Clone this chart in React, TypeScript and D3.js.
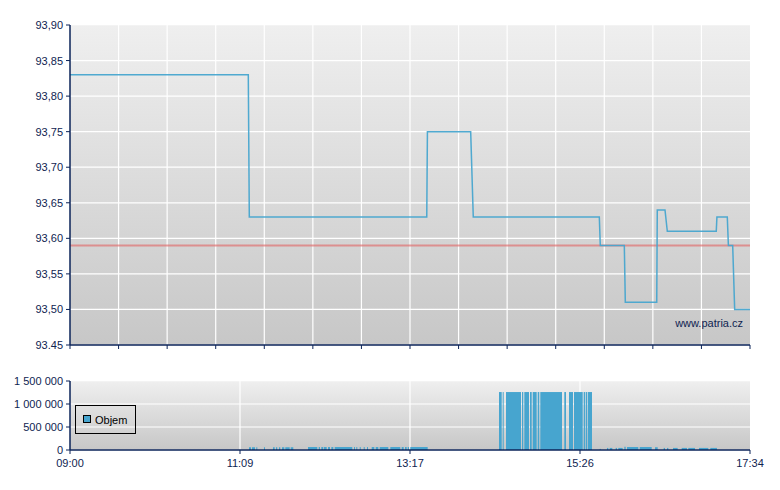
import React from "react";
import * as d3 from "d3";

const priceTimes = ["09:00:00","11:14:46","11:15:32","13:29:40","13:30:10","14:02:52","14:04:50","15:40:06","15:40:50","15:59:00","15:59:45","16:23:30","16:23:55","16:29:45","16:31:30","17:08:30","17:09:00","17:16:50","17:17:40","17:20:55","17:22:25","17:34:00"];
const priceValues = [93.83,93.83,93.63,93.63,93.75,93.75,93.63,93.63,93.59,93.59,93.51,93.51,93.64,93.64,93.61,93.61,93.63,93.63,93.59,93.59,93.50,93.50];
const refPrice = 93.59;

const volStart = ["11:15:18","11:17:34","11:20:49","11:26:38","11:33:26","11:35:42","11:37:58","11:40:15","11:42:44","11:46:49","11:59:54","12:07:59","12:09:57","12:12:00","12:15:01","12:17:32","12:20:05","12:34:40","12:36:24","12:39:00","12:42:01","12:44:30","12:48:03","12:51:05","12:54:06","13:02:07","13:10:43","13:13:13","13:15:15","13:17:14",
  "14:24:17","14:27:04","14:29:34","14:41:39","14:43:24","14:47:42","14:49:44","14:53:31","14:55:29","15:13:38","15:17:11","15:20:58","15:28:17","15:29:48","15:31:19",
  "15:40:24","15:45:54","15:47:58","15:52:29","15:54:27","15:59:00","16:01:01","16:10:38","16:22:12","16:28:46","16:31:16","16:35:48","16:42:22","16:47:22","16:55:27","17:04:00"];
const volEnd = ["11:16:49","11:19:50","11:21:35","11:27:23","11:34:43","11:36:40","11:38:57","11:41:59","11:46:04","11:48:47","12:06:56","12:08:58","12:11:28","12:14:02","12:16:32","12:19:02","12:33:23","12:35:25","12:37:10","12:39:45","12:42:28","12:45:15","12:50:01","12:53:03","13:00:36","13:09:40","13:12:14","13:14:30","13:16:14","13:30:22",
  "14:26:19","14:27:30","14:40:54","14:42:38","14:46:57","14:49:00","14:52:45","14:54:44","15:11:54","15:14:55","15:20:13","15:27:32","15:29:16","15:30:47","15:34:34",
  "15:41:08","15:46:53","15:49:56","15:53:28","15:57:45","16:00:02","16:09:34","16:19:42","16:24:14","16:29:45","16:32:16","16:39:20","16:46:23","16:52:26","17:02:29","17:09:02"];
const volValues = [60000,60000,60000,60000,60000,60000,60000,60000,60000,60000,65000,65000,65000,65000,65000,65000,65000,65000,65000,65000,65000,65000,65000,65000,65000,65000,65000,65000,65000,65000,
  1260000,1260000,1260000,1260000,1260000,1260000,1260000,1260000,1260000,1260000,1260000,1260000,1260000,1260000,1260000,
  25000,45000,45000,45000,45000,70000,65000,65000,60000,45000,45000,45000,45000,45000,45000,45000];

const priceTickLabels = ["93.45","93,50","93,55","93,60","93,65","93,70","93,75","93,80","93,85","93,90"];
const priceTickValues = [93.45,93.5,93.55,93.6,93.65,93.7,93.75,93.8,93.85,93.9];
const volTickValues = [0,500000,1000000,1500000];
const timeLabels = ["09:00","11:09","13:17","15:26","17:34"];
const dayStart = "09:00:00";
const dayEnd = "17:34:00";

const parse = d3.timeParse("%H:%M:%S");
const volFmt = d3.formatLocale({ decimal: ",", thousands: " ", grouping: [3], currency: ["", ""] }).format(",.0f");

const AXIS = "#0b2358";
const TEXT = "#0f2451";
const BLUE = "#47a5cf";
const FONT = "'Liberation Sans', Arial, sans-serif";

export default function App() {
  const x0 = 70, x1 = 750;
  const t0 = parse(dayStart)!, t1 = parse(dayEnd)!;
  const x = d3.scaleTime().domain([t0, t1]).range([x0, x1]);
  const yP = d3.scaleLinear().domain([93.45, 93.9]).range([345, 25]);
  const yV = d3.scaleLinear().domain([0, 1500000]).range([450, 381]);

  const pts = priceTimes.map((t, i) => [x(parse(t)!), yP(priceValues[i])] as [number, number]);
  const line = d3.line().curve(d3.curveLinear)(pts) || "";

  const span = t1.getTime() - t0.getTime();
  const topGrid = d3.range(15).map(i => x(new Date(t0.getTime() + (span * i) / 14)));
  const botTicks = timeLabels.map((l, i) => ({ l, px: x(new Date(t0.getTime() + (span * i) / 4)) }));

  return (
    <svg width={780} height={490} style={{ position: "absolute", left: 0, top: 0, background: "#fff" }} fontFamily={FONT}>
      <defs>
        <linearGradient id="gTop" x1="0" y1="0" x2="0" y2="1">
          <stop offset="0" stopColor="#efefef" />
          <stop offset="1" stopColor="#c7c7c7" />
        </linearGradient>
        <linearGradient id="gBot" x1="0" y1="0" x2="0" y2="1">
          <stop offset="0" stopColor="#efefef" />
          <stop offset="1" stopColor="#c7c7c7" />
        </linearGradient>
      </defs>

      {/* top chart */}
      <rect x={x0} y={yP(93.9)} width={x1 - x0} height={yP(93.45) - yP(93.9)} fill="url(#gTop)" />
      {priceTickValues.map((v, i) => (
        <line key={"hg" + i} x1={x0} x2={x1} y1={yP(v)} y2={yP(v)} stroke="#fff" strokeWidth={1.2} opacity={i === priceTickValues.length - 1 ? 0.6 : 1} />
      ))}
      {topGrid.map((px, i) => i > 0 && i < 14 ? (
        <line key={"vg" + i} x1={px} x2={px} y1={yP(93.9)} y2={yP(93.45)} stroke="#fff" strokeWidth={1.2} />
      ) : null)}
      <line x1={x0} x2={x1} y1={yP(refPrice)} y2={yP(refPrice)} stroke="#e06a6a" strokeOpacity={0.65} strokeWidth={2} />
      <path d={line} fill="none" stroke={BLUE} strokeWidth={1.5} strokeOpacity={0.95} />
      <text x={743} y={327} textAnchor="end" fontSize={11} fill={TEXT}>www.patria.cz</text>
      <line x1={x0} x2={x0} y1={yP(93.9)} y2={yP(93.45)} stroke={AXIS} strokeWidth={1.5} />
      <line x1={x0} x2={x1} y1={yP(93.45)} y2={yP(93.45)} stroke={AXIS} strokeWidth={1.5} />
      {priceTickValues.map((v, i) => (
        <g key={"pt" + i}>
          <line x1={x0 - 4} x2={x0} y1={yP(v)} y2={yP(v)} stroke={AXIS} strokeWidth={1} />
          <text x={63} y={yP(v) + 4} textAnchor="end" fontSize={11} fill={TEXT}>{priceTickLabels[i]}</text>
        </g>
      ))}
      {topGrid.map((px, i) => (
        <line key={"xt" + i} x1={px} x2={px} y1={345} y2={349} stroke={AXIS} strokeWidth={1} />
      ))}

      {/* bottom chart */}
      <rect x={x0} y={yV(1500000)} width={x1 - x0} height={yV(0) - yV(1500000)} fill="url(#gBot)" />
      {volTickValues.map((v, i) => (
        <line key={"vh" + i} x1={x0} x2={x1} y1={yV(v)} y2={yV(v)} stroke="#fff" strokeWidth={1.2} opacity={i === volTickValues.length - 1 ? 0.6 : 1} />
      ))}
      {botTicks.map((t, i) => i > 0 && i < 4 ? (
        <line key={"bvg" + i} x1={t.px} x2={t.px} y1={yV(1500000)} y2={yV(0)} stroke="#fff" strokeWidth={1.2} />
      ) : null)}
      {volStart.map((s, i) => {
        const a = x(parse(s)!), b = x(parse(volEnd[i])!);
        return <rect key={"vb" + i} x={a} y={yV(volValues[i])} width={Math.max(1, b - a)} height={yV(0) - yV(volValues[i])} fill={BLUE} />;
      })}
      <line x1={x0} x2={x0} y1={yV(1500000)} y2={yV(0)} stroke={AXIS} strokeWidth={1.5} />
      <line x1={x0} x2={x1} y1={yV(0)} y2={yV(0)} stroke={AXIS} strokeWidth={1.5} />
      {volTickValues.map((v, i) => (
        <g key={"vt" + i}>
          <line x1={x0 - 4} x2={x0} y1={yV(v)} y2={yV(v)} stroke={AXIS} strokeWidth={1} />
          <text x={63} y={yV(v) + 4} textAnchor="end" fontSize={11} fill={TEXT}>{volFmt(v)}</text>
        </g>
      ))}
      {botTicks.map((t, i) => (
        <g key={"bt" + i}>
          <line x1={t.px} x2={t.px} y1={450} y2={454} stroke={AXIS} strokeWidth={1} />
          <text x={t.px} y={467} textAnchor="middle" fontSize={11} fill={TEXT}>{t.l}</text>
        </g>
      ))}

      {/* legend */}
      <rect x={75.5} y={405.5} width={60} height={28} fill="none" stroke="#000" strokeWidth={1} />
      <rect x={83.5} y={415.5} width={7} height={7} fill={BLUE} stroke="#000" strokeWidth={1} />
      <text x={95} y={424} fontSize={11} fill="#000">Objem</text>
    </svg>
  );
}
